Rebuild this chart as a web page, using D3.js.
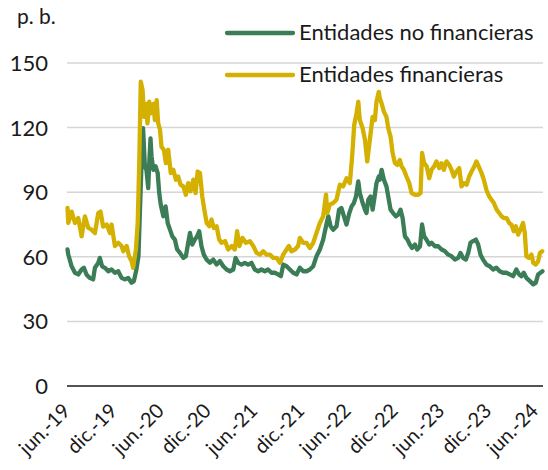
<!DOCTYPE html>
<html lang="es">
<head>
<meta charset="UTF-8">
<title>Diferenciales</title>
<style>
  body { margin: 0; background: #fff; }
  svg text { font-family: Lato, "Noto Sans", sans-serif; fill: #1a1a1a; }
</style>
</head>
<body>
<script src="https://cdn.jsdelivr.net/npm/d3@7"></script>
<script>
// ---- datos (p. b.) ----
const seriesNames = ["Entidades no financieras", "Entidades financieras"];
const seriesColors = ["#3b7d57", "#d4b000"];

const tickDates = ["2019-06-01","2019-12-01","2020-06-01","2020-12-01","2021-06-01","2021-12-01",
                   "2022-06-01","2022-12-01","2023-06-01","2023-12-01","2024-06-01"];
const tickLabels = ["jun.-19","dic.-19","jun.-20","dic.-20","jun.-21","dic.-21",
                    "jun.-22","dic.-22","jun.-23","dic.-23","jun.-24"];
const yTicks = [0, 30, 60, 90, 120, 150];

// Entidades no financieras
const noFinDates = [
  "2019-06-03","2019-06-06","2019-06-19","2019-07-02","2019-07-15","2019-07-28","2019-08-06","2019-08-16","2019-08-29","2019-09-11",
  "2019-09-18","2019-10-01","2019-10-07","2019-10-16","2019-10-27","2019-11-09","2019-11-22","2019-12-05","2019-12-18","2019-12-31",
  "2020-01-13","2020-01-26","2020-02-08","2020-02-17","2020-02-27","2020-03-06","2020-03-11","2020-03-18","2020-03-24","2020-03-31",
  "2020-04-06","2020-04-13","2020-04-17","2020-04-22","2020-04-26","2020-05-03","2020-05-12","2020-05-20","2020-05-26","2020-06-01",
  "2020-06-11","2020-06-20","2020-06-28","2020-07-07","2020-07-16","2020-07-26","2020-08-04","2020-08-15","2020-08-28","2020-09-07",
  "2020-09-16","2020-09-23","2020-10-02","2020-10-12","2020-10-21","2020-10-29","2020-11-07","2020-11-16","2020-11-27","2020-12-10",
  "2020-12-23","2021-01-05","2021-01-18","2021-01-31","2021-02-13","2021-02-26","2021-03-11","2021-03-20","2021-03-30","2021-04-12",
  "2021-04-25","2021-05-08","2021-05-21","2021-06-03","2021-06-16","2021-06-29","2021-07-12","2021-07-25","2021-08-07","2021-08-20",
  "2021-09-02","2021-09-13","2021-09-22","2021-10-05","2021-10-18","2021-10-31","2021-11-13","2021-11-26","2021-12-09","2021-12-22",
  "2022-01-04","2022-01-17","2022-01-30","2022-02-12","2022-02-25","2022-03-08","2022-03-17","2022-03-26","2022-04-05","2022-04-18",
  "2022-04-28","2022-05-07","2022-05-17","2022-05-27","2022-06-07","2022-06-16","2022-06-25","2022-07-03","2022-07-12","2022-07-18",
  "2022-07-29","2022-08-07","2022-08-13","2022-08-20","2022-08-29","2022-09-06","2022-09-12","2022-09-21","2022-09-30","2022-10-04",
  "2022-10-11","2022-10-20","2022-10-30","2022-11-06","2022-11-15","2022-11-25","2022-12-06","2022-12-15","2022-12-24","2023-01-01",
  "2023-01-10","2023-01-20","2023-01-29","2023-02-07","2023-02-18","2023-02-27","2023-03-10","2023-03-18","2023-03-26","2023-04-04",
  "2023-04-15","2023-04-24","2023-05-07","2023-05-20","2023-06-02","2023-06-15","2023-06-28","2023-07-11","2023-07-24","2023-08-06",
  "2023-08-15","2023-08-25","2023-09-05","2023-09-14","2023-09-23","2023-10-03","2023-10-14","2023-10-23","2023-11-01","2023-11-11",
  "2023-11-24","2023-12-07","2023-12-20","2024-01-02","2024-01-15","2024-01-28","2024-02-10","2024-02-23","2024-03-07","2024-03-20",
  "2024-03-31","2024-04-09","2024-04-18","2024-04-28","2024-05-12","2024-05-25","2024-06-04","2024-06-13","2024-06-22","2024-06-30"
];
const noFin = [
  63.4, 61, 55.6, 52.6, 51.8, 54.1, 54.9, 51.8, 50.2, 49.5,
  54.9, 57.2, 59.5, 55.6, 54.9, 53.3, 54.1, 52.6, 53.3, 50.2,
  49.5, 50.2, 48, 48.7, 54.1, 60.3, 78.8, 103.5, 119.7, 102,
  100.4, 91.9, 103.5, 115, 106.6, 100.4, 102, 98.9, 89.6, 84.2,
  78.8, 83.4, 75.7, 72.6, 69.5, 68, 63.4, 61.8, 59.5, 60.3,
  66.5, 71.1, 65.7, 68, 69.5, 71.9, 64.9, 61, 58.7, 57.2,
  58.7, 56.4, 58, 55.6, 54.1, 53.3, 54.1, 59.5, 57.2, 56.4,
  57.2, 56.4, 57.2, 54.1, 53.3, 54.1, 53.3, 54.1, 52.6, 52.6,
  51.8, 51, 56.4, 55.6, 54.1, 52.6, 51.8, 54.9, 53.3, 53.3,
  54.1, 55.6, 60.3, 63.4, 68, 74.2, 78.8, 74.2, 72.6, 74.2,
  81.9, 82.7, 78.8, 75, 80.3, 83.4, 85, 88, 95, 89.6,
  85, 81.9, 80.3, 86.5, 88, 81.9, 86.5, 94.2, 97.3, 95.8,
  100.4, 95.8, 92.7, 88, 81.9, 80.3, 78.8, 79.6, 81.9, 78,
  69.5, 68, 65.7, 64.1, 65.7, 63.4, 64.9, 75, 69.5, 68,
  65.7, 66.5, 64.9, 64.9, 63.4, 62.6, 61, 60.3, 58.7, 59.5,
  61.8, 59.5, 58.7, 61.8, 66.5, 67.3, 68, 65.7, 61, 58.7,
  56.4, 55.6, 54.1, 54.9, 53.3, 52.6, 52.6, 51.8, 51, 54.1,
  51.8, 51, 52.6, 50.2, 48.7, 47.2, 48, 51.8, 52.6, 53.3
];

// Entidades financieras
const finDates = [
  "2019-06-03","2019-06-06","2019-06-19","2019-07-02","2019-07-15","2019-07-28","2019-08-10","2019-08-23","2019-09-05","2019-09-18",
  "2019-10-01","2019-10-10","2019-10-20","2019-11-03","2019-11-16","2019-11-22","2019-12-05","2019-12-18","2019-12-31","2020-01-07",
  "2020-01-20","2020-01-29","2020-02-08","2020-02-14","2020-02-25","2020-03-03","2020-03-09","2020-03-15","2020-03-22","2020-03-28",
  "2020-04-04","2020-04-10","2020-04-17","2020-04-23","2020-05-03","2020-05-09","2020-05-16","2020-05-22","2020-05-29","2020-06-04",
  "2020-06-13","2020-06-21","2020-06-30","2020-07-10","2020-07-20","2020-07-30","2020-08-08","2020-08-17","2020-08-28","2020-09-07",
  "2020-09-16","2020-09-25","2020-10-06","2020-10-15","2020-10-23","2020-11-01","2020-11-10","2020-11-18","2020-11-27","2020-12-07",
  "2020-12-16","2020-12-25","2021-01-05","2021-01-15","2021-01-24","2021-02-07","2021-02-19","2021-03-05","2021-03-17","2021-03-26",
  "2021-04-04","2021-04-16","2021-04-29","2021-05-15","2021-05-28","2021-06-10","2021-06-23","2021-07-06","2021-07-19","2021-08-01",
  "2021-08-14","2021-08-27","2021-09-09","2021-09-22","2021-10-05","2021-10-14","2021-10-24","2021-11-07","2021-11-19","2021-11-26",
  "2021-12-09","2021-12-22","2022-01-04","2022-01-17","2022-01-30","2022-02-12","2022-02-25","2022-03-08","2022-03-13","2022-03-23",
  "2022-04-05","2022-04-18","2022-05-01","2022-05-14","2022-05-27","2022-06-09","2022-06-18","2022-06-26","2022-07-05","2022-07-12",
  "2022-07-18","2022-07-29","2022-08-07","2022-08-16","2022-08-26","2022-09-06","2022-09-15","2022-09-21","2022-09-30","2022-10-04",
  "2022-10-11","2022-10-20","2022-10-30","2022-11-06","2022-11-15","2022-11-23","2022-12-02","2022-12-11","2022-12-21","2022-12-28",
  "2023-01-06","2023-01-16","2023-01-27","2023-02-05","2023-02-18","2023-03-03","2023-03-12","2023-03-18","2023-03-26","2023-04-05",
  "2023-04-15","2023-04-24","2023-05-04","2023-05-13","2023-05-24","2023-06-02","2023-06-11","2023-06-21","2023-07-02","2023-07-11",
  "2023-07-20","2023-07-30","2023-08-10","2023-08-19","2023-08-28","2023-09-08","2023-09-18","2023-09-27","2023-10-08","2023-10-16",
  "2023-10-25","2023-11-05","2023-11-14","2023-11-24","2023-12-05","2023-12-14","2023-12-23","2024-01-03","2024-01-13","2024-01-22",
  "2024-01-31","2024-02-11","2024-02-21","2024-03-01","2024-03-10","2024-03-18","2024-03-27","2024-04-05","2024-04-15","2024-04-22",
  "2024-04-28","2024-05-08","2024-05-18","2024-05-25","2024-06-03","2024-06-13","2024-06-20","2024-06-29"
];
const fin = [
  82.7, 75.7, 81, 75.7, 78, 69.5, 78.8, 73.4, 72.6, 71,
  80.3, 81, 74, 75, 71, 75, 65, 66.5, 65, 62.6,
  65, 60.3, 58, 54.9, 63.4, 75.7, 103.5, 141.3, 137.4, 125,
  131, 122, 132, 126.6, 131, 123.5, 132.8, 122, 119, 111,
  109.7, 103.5, 109.7, 98.9, 100.4, 95.8, 97.3, 93.5, 92.7, 88.8,
  94.2, 90.4, 95.8, 89.6, 99.6, 98.9, 88, 81.9, 75.7, 74.2,
  77.3, 73.4, 74.2, 68, 66.5, 67.3, 63.4, 65, 63.4, 71.9,
  65, 68.8, 66.5, 67.2, 65, 61.8, 61, 62.6, 61, 61,
  59.5, 59.5, 57.2, 61, 63.4, 65, 62.6, 63.4, 65, 68.8,
  66.5, 66.5, 64.1, 66.5, 71.1, 75.7, 78.8, 88.9, 80.3, 84.2,
  85, 86.5, 93.5, 92.7, 96.5, 94.2, 106.6, 121.2, 126.6, 132,
  123.5, 119.7, 114.3, 104.3, 114.3, 125, 123.5, 132, 136.6, 133.6,
  131.3, 127.4, 125, 119.7, 115.8, 108.2, 103.5, 102.7, 105, 102,
  100.4, 97.3, 94.2, 89.6, 88.8, 88.8, 89.6, 108.2, 103.5, 102,
  96.5, 100.4, 102, 104.3, 101.2, 103.5, 100.4, 104.3, 102.7, 100.4,
  97.3, 99.6, 101.2, 92.7, 94.2, 93.5, 97.3, 99.6, 102, 104.3,
  102, 98.9, 95.8, 91.1, 88, 86.5, 85, 81.9, 80.3, 78.8,
  78, 78, 75.7, 74.9, 71.9, 74.2, 70.3, 72.6, 75.7, 71.1,
  60.3, 59.5, 61, 57.2, 56.4, 57.9, 61.8, 62.6
];

// ---- dibujo ----
const width = 548, height = 470;
const parse = d3.timeParse("%Y-%m-%d");

const svg = d3.select("body").append("svg")
  .attr("width", width)
  .attr("height", height);

const x = d3.scaleTime()
  .domain([parse("2019-06-01"), parse("2024-07-02")])
  .range([67, 543]);

const y = d3.scaleLinear()
  .domain([0, 150])
  .range([386, 63]);

// gridlines
svg.append("g")
  .selectAll("line")
  .data(yTicks.filter(d => d > 0))
  .enter().append("line")
  .attr("x1", x.range()[0]).attr("x2", x.range()[1])
  .attr("y1", d => y(d)).attr("y2", d => y(d))
  .style("stroke", "#d6d6d6")
  .style("stroke-width", 1.5);

// y labels
svg.append("g")
  .selectAll("text")
  .data(yTicks)
  .enter().append("text")
  .attr("x", 48)
  .attr("y", d => y(d))
  .attr("dy", "0.36em")
  .attr("text-anchor", "end")
  .attr("font-size", "22px")
  .text(d => d);

svg.append("text")
  .attr("x", 17).attr("y", 24)
  .attr("font-size", "21px")
  .text("p. b.");

// x axis (labels only, rotated)
const xAxis = d3.axisBottom(x)
  .tickValues(tickDates.map(parse))
  .tickFormat((d, i) => tickLabels[i])
  .tickSize(0);

const gx = svg.append("g")
  .attr("transform", "translate(0," + y(0) + ")")
  .call(xAxis);
gx.select(".domain").remove();
gx.selectAll("text")
  .attr("font-family", null)
  .attr("font-size", "20px")
  .attr("fill", null)
  .attr("text-anchor", "end")
  .attr("dy", null)
  .attr("y", 0)
  .attr("transform", "translate(4,26) rotate(-45)");

// series lines
const line = d3.line()
  .x(d => x(d.date))
  .y(d => y(d.value));

const series = [
  { name: seriesNames[0], color: seriesColors[0],
    values: noFinDates.map((d, i) => ({ date: parse(d), value: noFin[i] })) },
  { name: seriesNames[1], color: seriesColors[1],
    values: finDates.map((d, i) => ({ date: parse(d), value: fin[i] })) }
];

svg.append("g")
  .selectAll("path")
  .data(series)
  .enter().append("path")
  .attr("d", d => line(d.values))
  .style("fill", "none")
  .style("stroke", d => d.color)
  .style("stroke-width", 4.3)
  .style("stroke-linejoin", "round")
  .style("stroke-linecap", "round");

// zero line on top
svg.append("line")
  .attr("x1", x.range()[0]).attr("x2", x.range()[1])
  .attr("y1", y(0)).attr("y2", y(0))
  .style("stroke", "#1a1a1a")
  .style("stroke-width", 1.5);

// legend
const legend = svg.append("g")
  .selectAll("g")
  .data(series)
  .enter().append("g")
  .attr("transform", (d, i) => "translate(227," + (33 + i * 42) + ")");

legend.append("line")
  .attr("x1", 0).attr("x2", 66)
  .style("stroke", d => d.color)
  .style("stroke-width", 4.3)
  .style("stroke-linecap", "round");

legend.append("text")
  .attr("x", 72)
  .attr("y", 7)
  .attr("font-size", "22px")
  .text(d => d.name);
</script>
</body>
</html>
